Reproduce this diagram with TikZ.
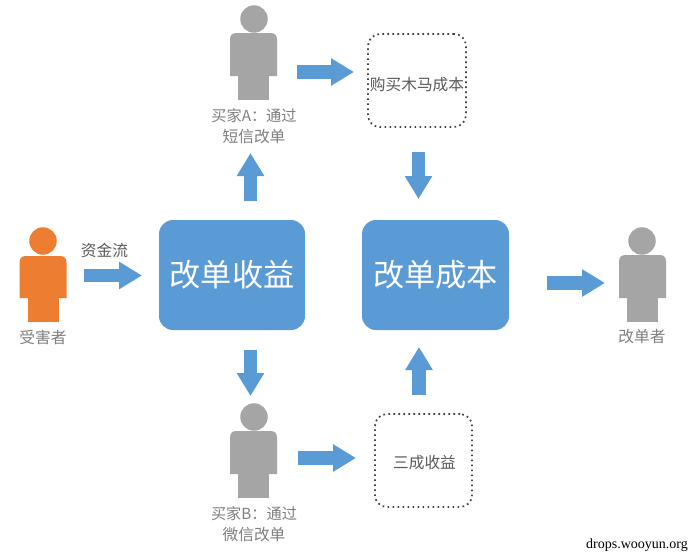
\documentclass[tikz,border=0pt]{standalone}
\usepackage{fontspec}
\setmainfont{Noto Sans CJK SC}
\newfontfamily\wmfont{Liberation Serif}
\usetikzlibrary{arrows.meta}
\definecolor{blueC}{HTML}{5B9BD5}
\definecolor{grayC}{HTML}{A5A5A5}
\definecolor{orangeC}{HTML}{ED7D31}
\definecolor{labelC}{HTML}{7F7F7F}
\definecolor{darkC}{HTML}{595959}
\definecolor{dotC}{HTML}{404040}
\tikzset{
  x=1pt,y=-1pt,
  blockarr/.style={draw=blueC,line width=13.5pt,-{Triangle[length=23pt,width=26pt,fill=blueC]}},
  mainbox/.style={draw=none,fill=blueC,rounded corners=14pt,minimum width=146pt,minimum height=110pt,inner sep=0pt,text=white,font=\fontsize{31.2}{36}\selectfont},
  dotbox/.style={draw=dotC,line width=1.7pt,dash pattern=on 1.7pt off 3.3pt,rounded corners=12pt,minimum width=98pt,minimum height=93pt,inner sep=0pt},
  lbl/.style={text=labelC,inner sep=0pt,align=center,font=\fontsize{15.7}{21}\selectfont},
  dlbl/.style={text=darkC,inner sep=0pt,font=\fontsize{15.7}{19}\selectfont},
  head/.style={circle,inner sep=0pt,minimum size=27.5pt},
}
\newcommand{\personbody}[4]{% x-left of body, top, bottom of body, colour
  \fill[#4] (#1,#3) -- (#1,{#2+7}) .. controls (#1,{#2+2}) and ({#1+2},#2) .. ({#1+7},#2)
     -- ({#1+40},#2) .. controls ({#1+45},#2) and ({#1+47},{#2+2}) .. ({#1+47},{#2+7})
     -- ({#1+47},#3) -- cycle;
  \fill[#4] ({#1+8},{#3-1}) rectangle ({#1+39},{#3+24});
}
\begin{document}
\begin{tikzpicture}
\useasboundingbox (0,0) rectangle (691,557);
\fill[white] (0,0) rectangle (691,557);

% boxes
\node[mainbox] (gain) at (232,275) {改单收益};
\node[mainbox,minimum width=147pt] (cost) at (435.5,275) {改单成本};
\node[dotbox] (trojan) at (417,80.5) {};
\node[dlbl] (trojantext) at (417,85) {购买木马成本};
\node[dotbox,minimum width=97pt] (share) at (423.5,460.5) {};
\node[dlbl] (sharetext) at (424.5,463) {三成收益};

% people
\node[head,fill=grayC] (buyerA) at (254,19) {};
\personbody{230}{33}{76}{grayC}
\node[head,fill=grayC] (buyerB) at (254,417) {};
\personbody{230}{431}{474}{grayC}
\node[head,fill=orangeC] (victim) at (43,241) {};
\personbody{19.5}{256}{298}{orangeC}
\node[head,fill=grayC] (changer) at (642,241) {};
\personbody{619}{255}{298}{grayC}

% labels
\node[lbl] (labelA) at (254,126) {{\fontsize{15.2}{21}\selectfont 买家A：通过}\\短信改单};
\node[lbl] (labelB) at (254,524) {{\fontsize{15.2}{21}\selectfont 买家B：通过}\\微信改单};
\node[lbl] (labelV) at (43,337) {受害者};
\node[lbl] (labelC) at (642,337) {改单者};
\node[dlbl] (flow) at (104.5,250) {资金流};
\node[inner sep=0pt,text=black,font=\wmfont\fontsize{14}{16}\selectfont,anchor=east] (mark) at (688,545) {drops.wooyun.org};

% connector ends
\coordinate (v1) at (84,275.5);   \coordinate (v2) at (142,275.5);
\coordinate (g1) at (250.5,201);  \coordinate (g2) at (250.5,153);
\coordinate (g3) at (250.5,350);  \coordinate (g4) at (250.5,396);
\coordinate (a1) at (297,72);     \coordinate (a2) at (354,72);
\coordinate (t1) at (418.5,152);  \coordinate (t2) at (418.5,199);
\coordinate (b1) at (298,458);    \coordinate (b2) at (356,458);
\coordinate (s1) at (419,395);    \coordinate (s2) at (419,347);
\coordinate (c1) at (547,283);    \coordinate (c2) at (605,283);

\draw[blockarr] (v1) -- (v2);
\draw[blockarr] (g1) -- (g2);
\draw[blockarr] (g3) -- (g4);
\draw[blockarr] (a1) -- (a2);
\draw[blockarr] (t1) -- (t2);
\draw[blockarr] (b1) -- (b2);
\draw[blockarr] (s1) -- (s2);
\draw[blockarr] (c1) -- (c2);
\end{tikzpicture}
\end{document}
